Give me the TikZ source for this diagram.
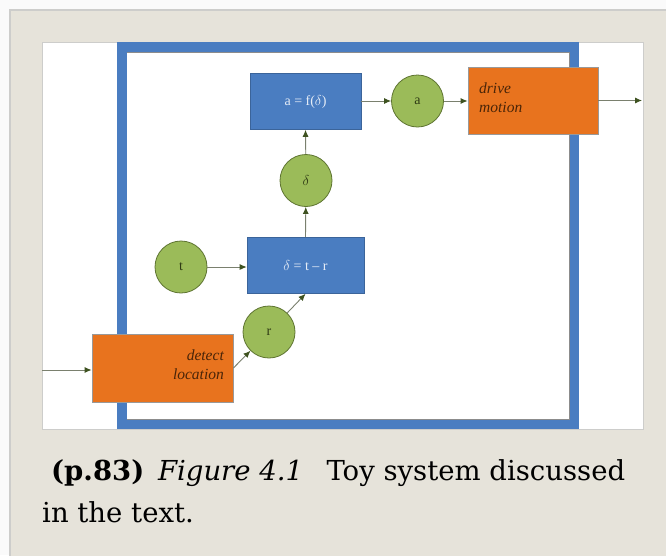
\documentclass[tikz,border=0pt]{standalone}
\usepackage{fontspec}
\setmainfont{Liberation Serif}
\newfontfamily\capfont{DejaVu Serif}
\usetikzlibrary{arrows.meta}

\definecolor{pagebg}{HTML}{FAFAFA}
\definecolor{panel}{HTML}{E6E3DA}
\definecolor{panelline}{HTML}{CDCDCB}
\definecolor{frameblue}{HTML}{4A7DC1}
\definecolor{boxblue}{HTML}{4A7DC1}
\definecolor{boxorange}{HTML}{E8731E}
\definecolor{leafgreen}{HTML}{9BBB59}
\definecolor{leafedge}{HTML}{5E7431}
\definecolor{wire}{HTML}{7A806E}
\definecolor{tipcol}{HTML}{3E5220}
\definecolor{bluetext}{HTML}{E6EDF7}
\definecolor{orangetext}{HTML}{4A2508}
\definecolor{circtext}{HTML}{2E3A14}

\tikzset{
  bluebox/.style={draw=boxblue!80!black, line width=0.6pt, fill=boxblue, minimum width=#1, minimum height=56pt,
    inner sep=0pt, text=bluetext, font=\fontsize{14}{16}\selectfont},
  orangebox/.style={draw=gray!80, line width=0.8pt, fill=boxorange, inner sep=0pt},
  varnode/.style={circle, draw=leafedge, line width=0.8pt, fill=leafgreen, minimum size=52pt,
    inner sep=0pt, text=circtext, font=\fontsize{14}{16}\selectfont},
  flow/.style={draw=wire, line width=0.9pt, -{Latex[length=7pt,width=6pt,color=tipcol]}},
  lbl/.style={text=orangetext, font=\itshape\fontsize{15.5}{17}\selectfont, inner sep=0pt},
  captext/.style={inner sep=0pt, anchor=base west, font=\capfont\fontsize{27.5}{32}\selectfont}
}

\begin{document}
\begin{tikzpicture}[x=1pt, y=-1pt]
  % page and caption panel
  \fill[pagebg] (0,0) rectangle (666,555);
  \useasboundingbox (0,0) rectangle (666,555);
  \filldraw[fill=panel, draw=panelline, line width=1.2pt] (10,10) rectangle (680,570);

  % white figure area
  \filldraw[fill=white, draw=panelline, line width=1pt] (42,42) rectangle (643,429);

  % blue system boundary
  \fill[frameblue] (117,42) rectangle (579,429);
  \fill[white] (127,52) rectangle (569,419);
  \draw[black!45, line width=0.8pt] (127,52) -- (569,52) -- (569,419) -- (127,419);

  % blocks
  \node[bluebox=111pt] (f) at (305.5,101.5) {a = f($\delta$)};
  \node[bluebox=117pt] (diff) at (305.5,265.5) {$\delta$ = t -- r};
  \node[orangebox, minimum width=130pt, minimum height=67pt] (drive) at (533,100.5) {};
  \node[orangebox, minimum width=141pt, minimum height=68pt] (detect) at (162.5,368) {};

  \node[lbl, anchor=base west] (drivetxt) at (479,93) {drive};
  \node[lbl, anchor=base west] (motiontxt) at (479,112) {motion};
  \node[lbl, anchor=base east] (detecttxt) at (224,360) {detect};
  \node[lbl, anchor=base east] (loctxt) at (224,379) {location};

  % signals
  \node[varnode] (a) at (417.5,101) {a};
  \node[varnode] (d) at (306,180.5) {$\delta$};
  \node[varnode] (t) at (181,267) {t};
  \node[varnode] (r) at (269,332) {r};

  % free ends of the input and output lines
  \coordinate (in) at (42,370);
  \coordinate (out) at (642,100.5);

  % connectors
  \draw[flow] (in) -- (detect.west |- in);
  \draw[flow] (detect.east) -- (r);
  \draw[flow] (r) -- (diff.south);
  \draw[flow] (t) -- (diff.west |- t);
  \draw[flow] (diff.north) -- (d);
  \draw[flow] (d) -- (f.south);
  \draw[flow] (f.east |- a) -- (a);
  \draw[flow] (a) -- (drive.west |- a);
  \draw[flow] (drive.east) -- (out);

  % caption
  \node[captext] (c1) at (51,480) {\textbf{(p.83)}\hspace{0.5em}\textit{Figure 4.1}\hspace{0.85em}Toy system discussed};
  \node[captext] (c2) at (42,522) {in the text.};
\end{tikzpicture}
\end{document}
